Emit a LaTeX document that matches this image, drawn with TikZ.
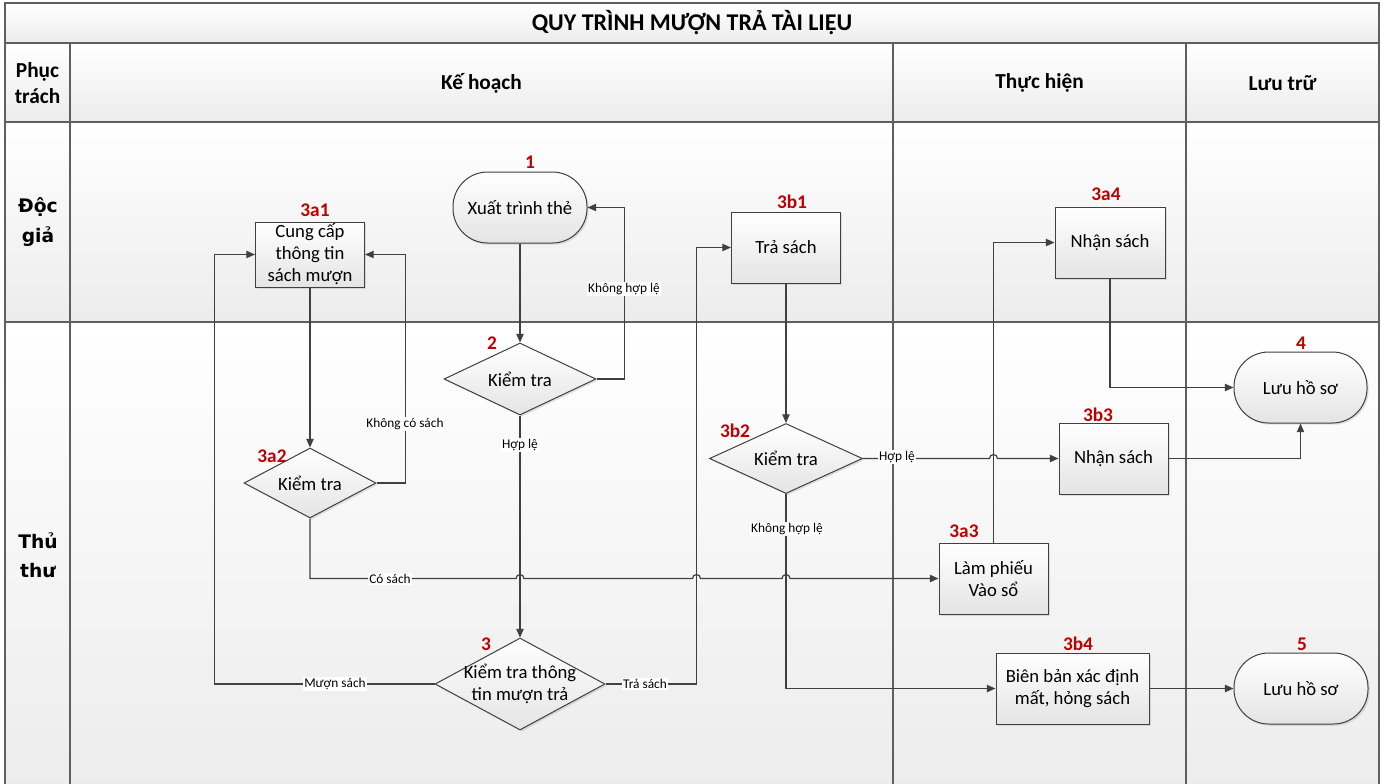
\documentclass[tikz,border=0pt]{standalone}
\usepackage{fontspec}
\setmainfont{Carlito}
\newfontfamily\lanefont{DejaVu Sans}
\usetikzlibrary{shapes.geometric,arrows.meta,calc,shadows}
\newlength\pu
\setlength\pu{0.75pt}
\definecolor{gridc}{HTML}{5F5F5F}
\definecolor{linec}{HTML}{404040}
\definecolor{numc}{HTML}{C00000}
\definecolor{shadebot}{HTML}{ECECEC}
\definecolor{boxbot}{HTML}{E4E4E4}
\tikzset{
  cellfill/.style={top color=white,bottom color=shadebot,draw=none},
  gridline/.style={draw=gridc,line width=1.1pt},
  shp/.style={draw=linec,line width=0.75pt,top color=white,bottom color=boxbot,
    drop shadow={opacity=0.22,shadow xshift=1.3pt,shadow yshift=-1.3pt},
    inner sep=0pt,align=center,font=\fontsize{14}{16.5}\selectfont},
  box/.style={shp,rectangle},
  term/.style={shp,rectangle,rounded corners=26pt},
  dia/.style={shp,diamond},
  dtext/.style={inner sep=0pt,align=center,font=\fontsize{14}{16.5}\selectfont},
  num/.style={text=numc,font=\bfseries\fontsize{14.5}{15}\selectfont,inner sep=0pt},
  conn/.style={draw=linec,line width=0.9pt,-{Triangle[length=6.5pt,width=5.5pt]}},
  lbl/.style={fill=white,inner sep=1pt,font=\fontsize{10}{12}\selectfont},
  head/.style={font=\bfseries\fontsize{16}{19}\selectfont,align=center},
  lanelbl/.style={font=\lanefont\bfseries\fontsize{14}{22}\selectfont,align=center},
}
\begin{document}
\begin{tikzpicture}[x=0.75pt,y=-0.75pt]
\useasboundingbox (0,0) rectangle (1387,783);
\clip (0,0) rectangle (1387,783);
% ---------- backgrounds ----------
\path[cellfill] (5,3) rectangle (1379,43);
\path[cellfill] (5,43) rectangle (1379,122);
\path[cellfill] (5,122) rectangle (70,322);
\path[cellfill] (5,322) rectangle (70,790);
\path[cellfill] (70,122) rectangle (1379,322);
\path[cellfill] (70,322) rectangle (1379,790);
% ---------- grid ----------
\draw[gridline] (5,3) rectangle (1379,800);
\draw[gridline] (5,43) -- (1379,43);
\draw[gridline] (5,122) -- (1379,122);
\draw[gridline] (5,322) -- (1379,322);
\draw[gridline] (70,43) -- (70,800);
\draw[gridline] (893,43) -- (893,800);
\draw[gridline] (1186,43) -- (1186,800);
% ---------- headers ----------
\node[head,font=\bfseries\fontsize{18}{21}\selectfont] (title) at (692,23) {QUY TRÌNH MƯỢN TRẢ TÀI LIỆU};
\node[head] (hpt) at (37.5,83) {Phục\\trách};
\node[head] (hkh) at (481.5,83) {Kế hoạch};
\node[head] (hth) at (1039.5,83) {Thực hiện};
\node[head] (hlt) at (1282.5,83) {Lưu trữ};
\node[lanelbl] (ldg) at (38,222) {Độc\\giả};
\node[lanelbl] (ltt) at (38,555) {Thủ\\thư};
% ---------- shapes ----------
\node[term,minimum width=134\pu,minimum height=71\pu] (k1) at (520,207.5) {Xuất trình thẻ};
\node[dia,minimum width=152\pu,minimum height=72\pu,label={[dtext]center:Kiểm tra}] (k2) at (520,379) {};
\node[dia,minimum width=170\pu,minimum height=92\pu,label={[dtext]center:Kiểm tra thông\\tin mượn trả}] (k3) at (520,684) {};
\node[box,minimum width=109\pu,minimum height=65\pu] (k3a1) at (310,254.5) {Cung cấp\\thông tin\\sách mượn};
\node[dia,minimum width=132\pu,minimum height=70\pu,label={[dtext]center:Kiểm tra}] (k3a2) at (310,483) {};
\node[box,minimum width=109\pu,minimum height=71\pu] (k3b1) at (786,247.5) {Trả sách};
\node[box,minimum width=110\pu,minimum height=71\pu] (k3a4) at (1110,242.5) {Nhận sách};
\node[dia,minimum width=153\pu,minimum height=70\pu,label={[dtext]center:Kiểm tra}] (k3b2) at (786,458.5) {};
\node[box,minimum width=109\pu,minimum height=71\pu] (k3b3) at (1113.5,458.5) {Nhận sách};
\node[box,minimum width=109\pu,minimum height=71\pu] (k3a3) at (993.5,578.5) {Làm phiếu\\Vào sổ};
\node[box,minimum width=153\pu,minimum height=71\pu] (k3b4) at (1072.5,688.5) {Biên bản xác định\\mất, hỏng sách};
\node[term,minimum width=133\pu,minimum height=71\pu] (k4) at (1300.5,387.5) {Lưu hồ sơ};
\node[term,minimum width=134\pu,minimum height=71\pu] (k5) at (1301,688.5) {Lưu hồ sơ};
% ---------- step numbers ----------
\node[num] (n1) at (530,162) {1};
\node[num] (n2) at (492,343) {2};
\node[num] (n3) at (486,644) {3};
\node[num] (n3a1) at (315,210) {3a1};
\node[num] (n3a2) at (272,456) {3a2};
\node[num] (n3a3) at (964,531) {3a3};
\node[num] (n3a4) at (1106,194) {3a4};
\node[num] (n3b1) at (792,202) {3b1};
\node[num] (n3b2) at (735,431) {3b2};
\node[num] (n3b3) at (1098,415) {3b3};
\node[num] (n3b4) at (1078,644) {3b4};
\node[num] (n4) at (1301,343) {4};
\node[num] (n5) at (1302,644) {5};
% ---------- connectors ----------
\coordinate (vM) at ($(k3.west)+(-220,0)$);
\coordinate (vT) at ($(k3.east)+(91,0)$);
\coordinate (vK) at ($(k3a2.east)+(29,0)$);
\coordinate (vX) at ($(k2.east)+(28,0)$);
\draw[conn] (k1.south) -- (k2.north);
\draw[conn] (k2.east) -- (vX) |- (k1.east);
\draw[conn] (k2.south) -- (k3.north);
\draw[conn] (k3.west) -- (vM) |- (k3a1.west);
\draw[conn] (k3.east) -- (vT) |- (k3b1.west);
\draw[conn] (k3a1.south) -- (k3a2.north);
\draw[conn] (k3a2.east) -- (vK) |- (k3a1.east);
\draw[conn] (k3a2.south) -- (k3a2.south |- k3a3.west)
  -- ($(k2.south |- k3a3.west)+(-4,0)$) arc[start angle=180,end angle=360,radius=4]
  -- ($(vT |- k3a3.west)+(-4,0)$) arc[start angle=180,end angle=360,radius=4]
  -- ($(k3b2.south |- k3a3.west)+(-4,0)$) arc[start angle=180,end angle=360,radius=4]
  -- (k3a3.west);
\draw[conn] (k3a3.north) |- (k3a4.west);
\draw[conn] (k3a4.south) |- (k4.west);
\draw[conn] (k3b1.south) -- (k3b2.north);
\draw[conn] (k3b2.east)
  -- ($(k3a3.north |- k3b2.east)+(-4,0)$) arc[start angle=180,end angle=360,radius=4]
  -- (k3b3.west);
\draw[conn] (k3b3.east) -| (k4.south);
\draw[conn] (k3b2.south) |- (k3b4.west);
\draw[conn] (k3b4.east) -- (k5.west);
% ---------- connector labels ----------
\node[lbl] (l1) at (624,289) {Không hợp lệ};
\node[lbl] (l2) at (520,445) {Hợp lệ};
\node[lbl] (l3) at (405,424) {Không có sách};
\node[lbl] (l4) at (390,579) {Có sách};
\node[lbl] (l5) at (335,684) {Mượn sách};
\node[lbl] (l6) at (645,684) {Trả sách};
\node[lbl] (l7) at (897,457) {Hợp lệ};
\node[lbl] (l8) at (787,529) {Không hợp lệ};
\end{tikzpicture}
\end{document}
